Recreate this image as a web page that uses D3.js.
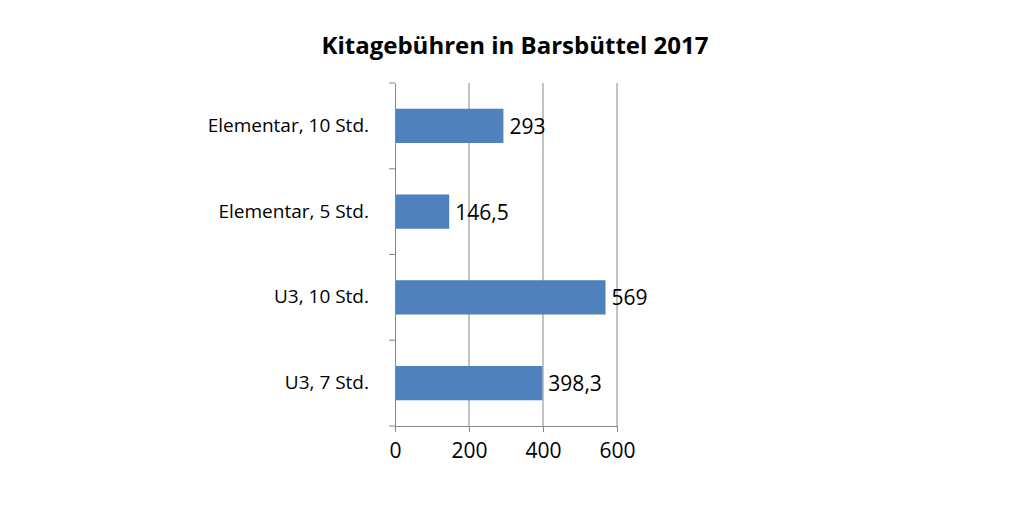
<!DOCTYPE html>
<html><head><meta charset="utf-8">
<script src="https://cdn.jsdelivr.net/npm/d3@7"></script>
<style>body{margin:0;background:#fff}text{font-family:"Open Sans",sans-serif}</style>
</head><body>
<script>
const categories = ['Elementar, 10 Std.', 'Elementar, 5 Std.', 'U3, 10 Std.', 'U3, 7 Std.'];
const values = [293, 146.5, 569, 398.3];
const labels = ['293', '146,5', '569', '398,3'];
const ticks = [0, 200, 400, 600];

const svg = d3.select('body').append('svg').attr('width', 1010).attr('height', 505);
const plotLeft = 395, plotTop = 83, plotBottom = 426;
const x = d3.scaleLinear().domain([0, 600]).range([plotLeft, 617]);
const y = d3.scaleBand().domain(categories).range([plotTop, plotBottom]).paddingInner(0.6).paddingOuter(0.3);

svg.append('text').attr('x', 515).attr('y', 54).attr('text-anchor', 'middle')
  .style('font-size', '24px').style('font-weight', 'bold').text('Kitagebühren in Barsbüttel 2017');

// gridlines
svg.selectAll('.grid').data(ticks.slice(1)).join('line')
  .attr('x1', d => x(d)).attr('x2', d => x(d)).attr('y1', plotTop).attr('y2', plotBottom)
  .attr('stroke', '#868686');

svg.selectAll('.bar').data(values).join('rect')
  .attr('x', plotLeft).attr('y', (d, i) => y(categories[i]))
  .attr('width', d => x(d) - plotLeft).attr('height', y.bandwidth())
  .attr('fill', '#4f81bd');

svg.selectAll('.lbl').data(values).join('text')
  .attr('x', d => x(d) + 6).attr('y', (d, i) => y(categories[i]) + y.bandwidth() / 2 + 8)
  .style('font-size', '21px').text((d, i) => labels[i]);

const xa = svg.append('g').attr('transform', `translate(0,${plotBottom})`)
  .call(d3.axisBottom(x).tickValues(ticks).tickSize(6).tickFormat(d3.format('d')));
xa.select('.domain').attr('stroke', '#868686');
xa.selectAll('line').attr('stroke', '#868686');
xa.selectAll('text').style('font-size', '21px').attr('dy', '1.1em').attr('fill', '#000');

const ya = svg.append('g').attr('transform', `translate(${plotLeft},0)`)
  .call(d3.axisLeft(y).tickSize(0).tickPadding(26));
ya.select('.domain').attr('stroke', '#868686');
ya.selectAll('text').style('font-size', '19px').attr('fill', '#000');
const bandStep = (plotBottom - plotTop) / categories.length;
ya.selectAll('.sep').data(d3.range(categories.length + 1)).join('line')
  .attr('x1', -6).attr('x2', 0).attr('y1', d => plotTop + d * bandStep).attr('y2', d => plotTop + d * bandStep)
  .attr('stroke', '#868686');
</script>
</body></html>
